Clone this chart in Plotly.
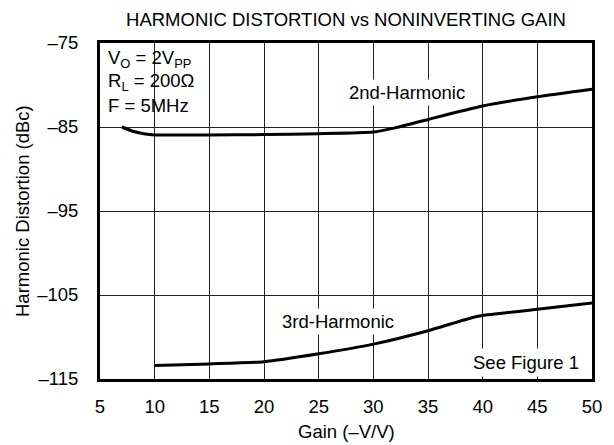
import plotly.graph_objects as go

# Data
gain_2nd = [7, 8, 9, 10, 15, 20, 25, 30, 32, 35, 40, 45, 50]
hd2_dbc = [-85.0, -85.5, -85.8, -85.95, -85.95, -85.9, -85.8, -85.6, -85.1, -84.1, -82.5, -81.4, -80.5]

gain_3rd = [10, 15, 20, 25, 30, 35, 39, 40, 45, 50]
hd3_dbc = [-113.4, -113.2, -112.95, -112.0, -110.85, -109.25, -107.7, -107.45, -106.7, -105.95]

x_ticks = [5, 10, 15, 20, 25, 30, 35, 40, 45, 50]
y_ticks = [-75, -85, -95, -105, -115]
y_tick_labels = ["–75", "–85", "–95", "–105", "–115"]

FONT = "Liberation Sans, Arial, sans-serif"
FS = 18.5

# page body has an 8px margin, so the figure is 8px smaller and shifted
W, H = 606, 437

fig = go.Figure()
fig.add_trace(go.Scatter(x=gain_2nd, y=hd2_dbc, mode="lines",
                         line=dict(color="black", width=3, shape="spline", smoothing=0.5),
                         showlegend=False, hoverinfo="skip"))
fig.add_trace(go.Scatter(x=gain_3rd, y=hd3_dbc, mode="lines",
                         line=dict(color="black", width=3, shape="spline", smoothing=0.5),
                         showlegend=False, hoverinfo="skip"))

fig.update_layout(
    width=W, height=H,
    margin=dict(l=92, r=17, t=35, b=66),
    paper_bgcolor="white", plot_bgcolor="white",
    font=dict(family=FONT, size=FS, color="black"),
    title=dict(text="HARMONIC DISTORTION vs NONINVERTING GAIN",
               x=0.5, xref="paper", xanchor="center",
               y=1 - 12 / H, yref="container", yanchor="middle",
               font=dict(family=FONT, size=FS, color="black")),
)

fig.update_xaxes(range=[5, 50], tickvals=x_ticks, showgrid=True, gridcolor="#222", gridwidth=1,
                 showline=True, linecolor="black", linewidth=3, mirror=True,
                 ticks="outside", ticklen=9, tickcolor="rgba(0,0,0,0)", zeroline=False,
                 tickfont=dict(family=FONT, size=FS))
fig.update_yaxes(range=[-115, -75], tickvals=y_ticks, ticktext=y_tick_labels,
                 showgrid=True, gridcolor="#222", gridwidth=1,
                 showline=True, linecolor="black", linewidth=3, mirror=True,
                 ticks="outside", ticklen=15, tickcolor="rgba(0,0,0,0)", zeroline=False,
                 tickfont=dict(family=FONT, size=FS))

annots = []
# Axis titles
annots.append(dict(text="Gain (–V/V)", xref="paper", yref="paper", x=0.5, y=0,
                   xanchor="center", yanchor="middle", yshift=-52, showarrow=False,
                   font=dict(family=FONT, size=FS)))
annots.append(dict(text="Harmonic Distortion (dBc)", xref="paper", yref="paper", x=0, y=0.5,
                   xanchor="center", yanchor="middle", xshift=-78, textangle=-90, showarrow=False,
                   font=dict(family=FONT, size=FS)))
# Conditions box
cond = ["V<sub>O</sub> = 2V<sub>PP</sub>", "R<sub>L</sub> = 200Ω", "F = 5MHz"]
for t, dy in zip(cond, [16, 39, 62]):
    annots.append(dict(text=t, xref="paper", yref="paper", x=0, y=1, xanchor="left",
                       yanchor="middle", xshift=6, yshift=-dy, showarrow=False,
                       font=dict(family=FONT, size=FS)))
# Curve labels
annots.append(dict(text="2nd-Harmonic", x=33.1, y=-80.95, xref="x", yref="y", showarrow=False,
                   bgcolor="white", borderpad=2, font=dict(family=FONT, size=FS)))
annots.append(dict(text="3rd-Harmonic", x=26.75, y=-108.1, xref="x", yref="y", showarrow=False,
                   bgcolor="white", borderpad=2, font=dict(family=FONT, size=FS)))
annots.append(dict(text="See Figure 1", x=49.2, y=-113.0, xref="x", yref="y", xanchor="right",
                   showarrow=False, bgcolor="white", borderpad=3, font=dict(family=FONT, size=FS)))
fig.update_layout(annotations=annots)

fig.write_html("out.html", config={"displayModeBar": False})
